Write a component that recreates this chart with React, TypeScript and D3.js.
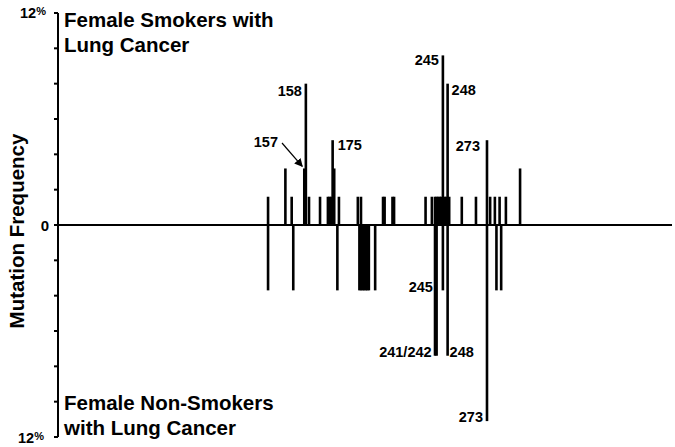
import React from "react";
import * as d3 from "d3";

// Codon positions and mutation frequencies (%) — female smokers (upper panel)
const smokerCodons = [134, 145, 149, 157, 158, 160, 167, 172, 173, 174, 175, 176, 179, 191, 193, 207, 208, 213, 214, 234, 238, 240, 241, 242, 243, 244, 245, 246, 247, 248, 249, 257, 266, 273, 275, 278, 281, 285, 294];
const smokerFreq = [1.6, 3.2, 1.6, 3.2, 8.0, 1.6, 1.6, 1.6, 1.6, 1.6, 4.8, 3.2, 1.6, 1.6, 1.6, 1.6, 1.6, 1.6, 1.6, 1.6, 1.6, 1.6, 1.6, 1.6, 1.6, 1.6, 9.6, 1.6, 1.6, 8.0, 1.6, 1.6, 1.6, 4.8, 1.6, 1.6, 1.6, 1.6, 3.2];

// Female non-smokers (lower panel)
const nonSmokerCodons = [134, 150, 178, 192, 193, 194, 195, 196, 197, 198, 202, 240, 241, 245, 248, 273, 279, 282];
const nonSmokerFreq = [3.7, 3.7, 3.7, 3.7, 3.7, 3.7, 3.7, 3.7, 3.7, 3.7, 3.7, 7.4, 7.4, 3.7, 7.4, 11.1, 3.7, 3.7];

const yTicks = [-12, -10, -8, -6, -4, -2, 0, 2, 4, 6, 8, 10, 12];

const W = 675;
const H = 447;
const FONT = "'Liberation Sans', Arial, Helvetica, sans-serif";

export default function App() {
  const x = d3.scaleLinear().domain([0, 393]).range([57, 676]);
  const y = d3.scaleLinear().domain([-12, 12]).range([437, 13]);
  const barW = 2.6;
  const axisX = 58;
  const y0 = y(0);

  const up = smokerCodons.map((c, i) => ({ c, v: smokerFreq[i] }));
  const down = nonSmokerCodons.map((c, i) => ({ c, v: nonSmokerFreq[i] }));

  const lbl = { fontFamily: FONT, fontWeight: 700, fontSize: "14.5px", fill: "#000" } as const;
  const tick = { fontFamily: FONT, fontWeight: 700, fontSize: "14.5px", fill: "#000" } as const;
  const title = { fontFamily: FONT, fontWeight: 700, fontSize: "20.5px", fill: "#000" } as const;

  return (
    <svg width={W} height={H} style={{ position: "absolute", left: 0, top: 0, background: "#fff" }}>
      <defs>
        <marker id="ah" viewBox="0 0 10 10" refX="9" refY="5" markerWidth="7" markerHeight="7" orient="auto">
          <path d="M0,0 L10,5 L0,10 z" fill="#000" />
        </marker>
      </defs>
      <rect width={W} height={H} fill="#fff" />
      {up.map((d, i) => (
        <rect key={"u" + i} x={x(d.c) - barW / 2} y={y(d.v)} width={barW} height={y0 - y(d.v)} fill="#000" />
      ))}
      {down.map((d, i) => (
        <rect key={"d" + i} x={x(d.c) - barW / 2} y={y0} width={barW} height={y(-d.v) - y0} fill="#000" />
      ))}
      <line x1={axisX} x2={672} y1={y0} y2={y0} stroke="#000" strokeWidth={2} />
      <line x1={axisX} x2={axisX} y1={y(12)} y2={y(-12)} stroke="#000" strokeWidth={2} />
      {yTicks.map((t) => (
        <line key={t} x1={axisX - 4} x2={axisX} y1={y(t)} y2={y(t)} stroke="#000" strokeWidth={2} />
      ))}
      <text x={20} y={y(12) + 5} style={tick}>
        12<tspan style={{ fontSize: "11px" }} dy={-3}>%</tspan>
      </text>
      <text x={axisX - 13} y={y0 + 6} textAnchor="middle" style={{ ...tick, fontSize: "15px" }}>0</text>
      <text x={18} y={y(-12) + 6} style={tick}>
        12<tspan style={{ fontSize: "11px" }} dy={-3}>%</tspan>
      </text>
      <text transform={`translate(24,${y0 + 6}) rotate(-90)`} textAnchor="middle" style={title}>
        Mutation Frequency
      </text>
      <text x={64} y={27} style={title}>Female Smokers with</text>
      <text x={64} y={52} style={title}>Lung Cancer</text>
      <text x={64} y={410} style={title}>Female Non-Smokers</text>
      <text x={64} y={435} style={title}>with Lung Cancer</text>
      <text x={x(158) - 4} y={y(8.0) + 12} textAnchor="end" style={lbl}>158</text>
      <text x={x(245) - 4} y={y(9.6) + 10} textAnchor="end" style={lbl}>245</text>
      <text x={x(248) + 4} y={y(8.0) + 11} textAnchor="start" style={lbl}>248</text>
      <text x={x(175) + 5} y={y(4.8) + 10} textAnchor="start" style={lbl}>175</text>
      <text x={x(273) - 7} y={y(4.8) + 11} textAnchor="end" style={lbl}>273</text>
      <text x={278} y={147} textAnchor="end" style={lbl}>157</text>
      <line x1={282} y1={143} x2={x(157) - 2} y2={y(3.2) - 2} stroke="#000" strokeWidth={1.2} markerEnd="url(#ah)" />
      <text x={x(245) - 10} y={y(-3.7) + 2} textAnchor="end" style={lbl}>245</text>
      <text x={x(241) - 5} y={y(-7.4) + 1} textAnchor="end" style={lbl}>241/242</text>
      <text x={x(248) + 2} y={y(-7.4) + 1} textAnchor="start" style={lbl}>248</text>
      <text x={x(273) - 4} y={y(-11.1) + 1} textAnchor="end" style={lbl}>273</text>
    </svg>
  );
}
